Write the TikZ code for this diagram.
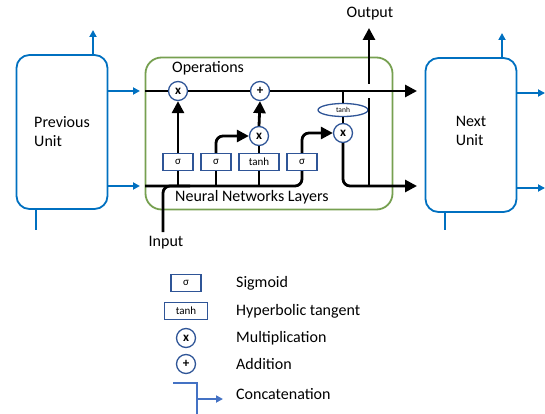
\documentclass[tikz,border=0pt]{standalone}
\usepackage{fontspec}
\setmainfont{Carlito}
\usetikzlibrary{calc, positioning, arrows.meta, shapes.geometric}
\definecolor{unitblue}{RGB}{0,112,192}
\definecolor{catblue}{RGB}{68,114,196}
\definecolor{layerblue}{RGB}{47,85,151}
\definecolor{cellgreen}{RGB}{118,160,80}
\newcommand{\lblfont}{\fontsize{16}{19}\selectfont}
\newcommand{\boxfont}{\fontsize{11}{12}\selectfont}
\newcommand{\ovalfont}{\fontsize{7.5}{8}\selectfont}
\newcommand{\opfont}{\bfseries\fontsize{13}{13}\selectfont}

\begin{document}
\begin{tikzpicture}[x=1pt, y=-1pt,
    unit/.style={draw=unitblue, line width=1.8pt, rounded corners=13pt,
      minimum width=91pt, minimum height=154pt},
    cellbox/.style={draw=cellgreen, line width=1.8pt, rounded corners=16pt,
      minimum width=247pt, minimum height=152pt},
    layer/.style={draw=layerblue, fill=white, line width=1.3pt, minimum width=30pt,
      minimum height=17pt, inner sep=1pt, font=\boxfont},
    op/.style={draw=layerblue, fill=white, circle, line width=1.3pt,
      minimum size=19pt, inner sep=0pt, font=\opfont},
    flow/.style={line width=2.8pt, rounded corners=7pt},
    bigtip/.style={-{Triangle[length=12pt, width=12pt]}},
    link/.style={draw=unitblue, line width=1.8pt, -{Triangle[length=7pt, width=7pt]}},
    bluewire/.style={draw=unitblue, line width=1.8pt},
    txt/.style={font=\lblfont, inner sep=0pt, align=left},
  ]
  \useasboundingbox (0,0) rectangle (545,414);

  % units on either side
  \node[unit] (prev) at (62,132) {};
  \node[unit] (next) at (471,135) {};
  \node[txt] (prevlbl) at (62,131.5) {Previous\\Unit};
  \node[txt] (nextlbl) at (471,130.5) {Next\\Unit};

  % the cell itself
  \node[cellbox] (cell) at (269,133.5) {};
  \node[txt, anchor=west] (ops) at (172,68) {Operations};
  \node[txt, anchor=west] (nnl) at (175,197) {Neural Networks Layers};

  \node[op] (mx1) at (178,91) {x};
  \node[op] (add) at (260,91) {+};
  \node[op] (mx2) at (259,136) {x};
  \node[op] (mx3) at (343,133) {x};
  \node[draw=layerblue, ellipse, line width=1.3pt, minimum width=50pt,
    minimum height=13pt, inner sep=0pt, font=\ovalfont] (tanhc) at (343,110) {tanh};

  \node[layer] (s1) at (178,162) {σ};
  \node[layer] (s2) at (216,162) {σ};
  \node[layer, minimum width=40pt] (th) at (259,162) {tanh};
  \node[layer] (s4) at (302,162) {σ};

  \node[txt] (outlbl) at (370,14) {Output};
  \node[txt] (inlbl) at (166,243) {Input};

  \coordinate (cin) at (145,91);
  \coordinate (cout) at (417,91);
  \coordinate (tap) at (343,91);
  \coordinate (hin) at (145,186);
  \coordinate (hout) at (417,186);
  \coordinate (obase) at (369,186);
  \coordinate (ounder) at (369,98);
  \coordinate (oover) at (369,84);
  \coordinate (otip) at (369,28);
  \coordinate (xin) at (163,232);
  \coordinate (xjoin) at (190,186);

  % cell state line
  \draw[flow] (cin) -- (mx1) -- (add);
  \draw[flow, bigtip] (add) -- (cout);
  \draw[flow] (tap) -- (tanhc);
  \draw[flow] (tanhc) -- (mx3);

  % hidden state and gates
  \draw[flow] (hin) -| (s4.south);
  \draw[flow, bigtip] (s4.north) |- (mx3.west);
  \draw[flow] (s1 |- hin) -- (s1.south);
  \draw[flow, bigtip] (s1.north) -- (mx1.south);
  \draw[flow] (s2 |- hin) -- (s2.south);
  \draw[flow, bigtip] (s2.north) |- (mx2.west);
  \draw[flow] (th |- hin) -- (th.south);
  \draw[flow] (th.north) -- (mx2.south);
  \draw[flow, bigtip] (mx2.north) -- (add.south);
  \draw[flow, bigtip] (mx3.south) |- (hout);
  \draw[flow] (obase) -- (ounder);
  \draw[flow, bigtip] (oover) -- (otip);
  \draw[flow] (xin) |- (xjoin);

  % wiring of the neighbouring units
  \coordinate (pup) at (93,30);
  \coordinate (pdown) at (36,230);
  \coordinate (nup) at (502,33);
  \coordinate (ndown) at (445,230);
  \coordinate (nc) at (545,93);
  \coordinate (nh) at (545,188);
  \draw[link] (prev.north -| pup) -- (pup);
  \draw[link] (prev.east |- cin) -- ([xshift=-5pt]cin);
  \draw[link] (prev.east |- hin) -- ([xshift=-5pt]hin);
  \draw[bluewire] (prev.south -| pdown) -- (pdown);
  \draw[link] (next.north -| nup) -- (nup);
  \draw[link] (next.east |- nc) -- (nc);
  \draw[link] (next.east |- nh) -- (nh);
  \draw[bluewire] (next.south -| ndown) -- (ndown);

  % legend
  \node[layer] (ksig) at (186,283) {σ};
  \node[layer, minimum width=43pt] (ktanh) at (186,311) {tanh};
  \node[op] (kmul) at (186,338) {x};
  \node[op] (kadd) at (186,364) {+};
  \node[txt, anchor=west] (ksigtxt) at (236,283) {Sigmoid};
  \node[txt, anchor=west] (ktanhtxt) at (236,311) {Hyperbolic tangent};
  \node[txt, anchor=west] (kmultxt) at (236,338) {Multiplication};
  \node[txt, anchor=west] (kaddtxt) at (236,364) {Addition};
  \node[txt, anchor=west] (kcattxt) at (236,394) {Concatenation};
  \coordinate (kcat) at (173,383);
  \coordinate (kbend) at (197,383);
  \coordinate (kfoot) at (197,414);
  \coordinate (kfork) at (197,399);
  \coordinate (ktip) at (223,399);
  \draw[bluewire, draw=catblue] (kcat) -- (kbend) -- (kfoot);
  \draw[link, draw=catblue, fill=catblue] (kfork) -- (ktip);
\end{tikzpicture}
\end{document}
